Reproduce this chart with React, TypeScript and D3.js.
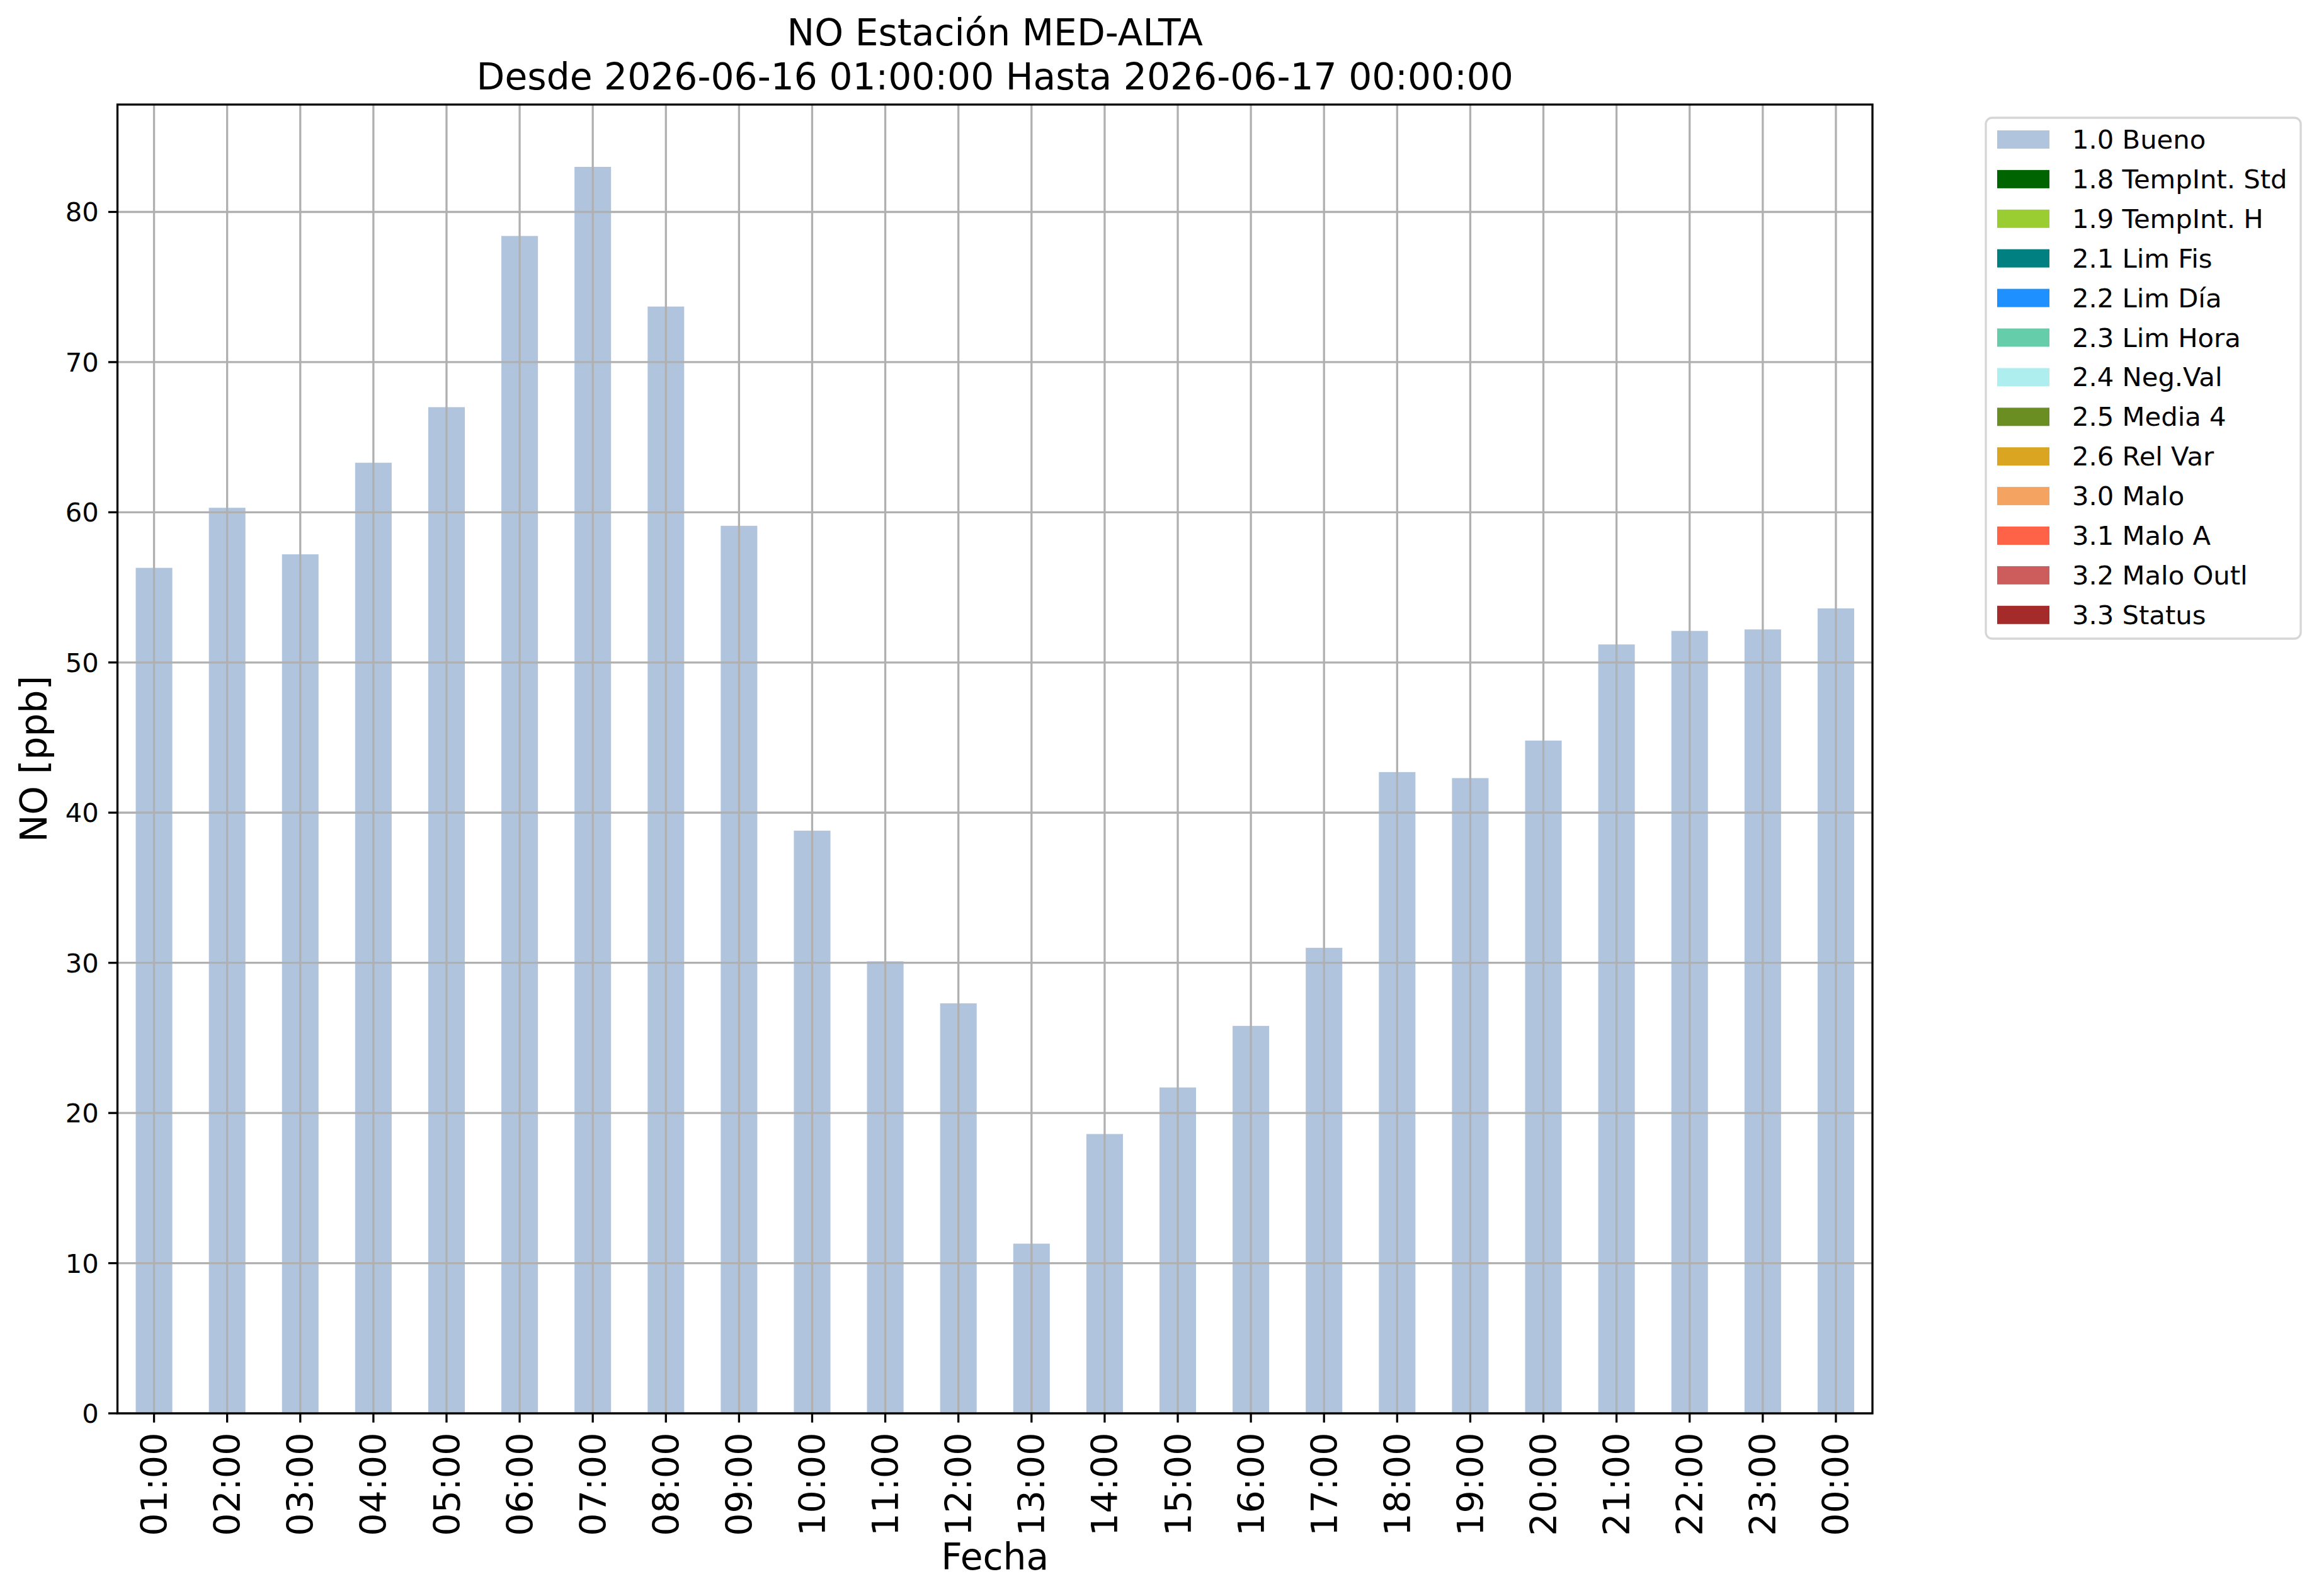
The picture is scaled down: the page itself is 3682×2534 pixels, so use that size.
import React from 'react';
import * as d3 from 'd3';

// hourly NO readings, 2026-06-16 01:00 .. 2026-06-17 00:00
const hours = [
  '01:00', '02:00', '03:00', '04:00', '05:00', '06:00', '07:00', '08:00',
  '09:00', '10:00', '11:00', '12:00', '13:00', '14:00', '15:00', '16:00',
  '17:00', '18:00', '19:00', '20:00', '21:00', '22:00', '23:00', '00:00',
];
const noValues = [
  56.3, 60.3, 57.2, 63.3, 67.0, 78.4, 83.0, 73.7,
  59.1, 38.8, 30.1, 27.3, 11.3, 18.6, 21.7, 25.8,
  31.0, 42.7, 42.3, 44.8, 51.2, 52.1, 52.2, 53.6,
];
const yTicks = [0, 10, 20, 30, 40, 50, 60, 70, 80];

const flagLabels = [
  '1.0 Bueno', '1.8 TempInt. Std', '1.9 TempInt. H', '2.1 Lim Fis', '2.2 Lim Día',
  '2.3 Lim Hora', '2.4 Neg.Val', '2.5 Media 4', '2.6 Rel Var', '3.0 Malo',
  '3.1 Malo A', '3.2 Malo Outl', '3.3 Status',
];
const flagColors = [
  '#b0c4de', '#006400', '#9acd32', '#008080', '#1e90ff',
  '#66cdaa', '#afeeee', '#6b8e23', '#daa520', '#f4a460',
  '#ff6347', '#cd5c5c', '#a52a2a',
];

const W = 3682;
const H = 2534;
const font = '"DejaVu Sans", sans-serif';

export default function App() {
  const margin = { left: 186.5, right: 2973, top: 166, bottom: 2244 };

  const x = d3.scaleBand<string>()
    .domain(hours)
    .range([margin.left, margin.right])
    .paddingInner(0.5)
    .paddingOuter(0.25);

  const y = d3.scaleLinear()
    .domain([0, (d3.max(noValues) ?? 0) * 1.05])
    .range([margin.bottom, margin.top]);

  const bw = x.bandwidth();
  const tickLen = 14.6;
  const gridColor = '#b0b0b0';
  const cx = (margin.left + margin.right) / 2;
  const labelSize = 58.3;

  // legend layout
  const lg = { x: 3153, y: 187, w: 500, h: 827, row: 62.9 };

  return (
    <>
      <style>{'body{margin:0}'}</style>
      <svg width={W} height={H} style={{ display: 'block', fontFamily: font }}>
        <rect width={W} height={H} fill="#fff" />

        {/* bars */}
        {hours.map((h, i) => (
          <rect key={h} x={x(h)} y={y(noValues[i])} width={bw}
            height={y(0) - y(noValues[i])} fill={flagColors[0]} />
        ))}

        {/* grid on top of bars */}
        {yTicks.map(t => (
          <line key={'gy' + t} x1={margin.left} x2={margin.right} y1={y(t)} y2={y(t)}
            stroke={gridColor} strokeWidth={3.3} />
        ))}
        {hours.map(h => (
          <line key={'gx' + h} x1={x(h)! + bw / 2} x2={x(h)! + bw / 2}
            y1={margin.top} y2={margin.bottom} stroke={gridColor} strokeWidth={3.3} />
        ))}

        {/* frame */}
        <rect x={margin.left} y={margin.top} width={margin.right - margin.left}
          height={margin.bottom - margin.top} fill="none" stroke="#000" strokeWidth={3.3} />

        {/* y axis */}
        {yTicks.map(t => (
          <g key={'ty' + t}>
            <line x1={margin.left - tickLen} x2={margin.left} y1={y(t)} y2={y(t)}
              stroke="#000" strokeWidth={3.3} />
            <text x={margin.left - tickLen - 15} y={y(t)} dy="0.36em" textAnchor="end"
              fontSize={41.7}>{t}</text>
          </g>
        ))}

        {/* x axis */}
        {hours.map(h => {
          const px = x(h)! + bw / 2;
          return (
            <g key={'tx' + h}>
              <line x1={px} x2={px} y1={margin.bottom} y2={margin.bottom + tickLen}
                stroke="#000" strokeWidth={3.3} />
              <text transform={`translate(${px},${margin.bottom + tickLen + 16}) rotate(-90)`}
                dy="0.36em" textAnchor="end" fontSize={57}>{h}</text>
            </g>
          );
        })}

        {/* labels */}
        <text x={cx} y={2492} textAnchor="middle" fontSize={labelSize}>Fecha</text>
        <text transform={`translate(74,${(margin.top + margin.bottom) / 2}) rotate(-90)`}
          textAnchor="middle" fontSize={labelSize}>NO [ppb]</text>
        <text x={cx} y={72} textAnchor="middle" fontSize={labelSize}>NO Estación MED-ALTA</text>
        <text x={cx} y={142} textAnchor="middle" fontSize={labelSize}>
          Desde 2026-06-16 01:00:00 Hasta 2026-06-17 00:00:00
        </text>

        {/* legend */}
        <rect x={lg.x} y={lg.y} width={lg.w} height={lg.h} rx={10} fill="#fff"
          fillOpacity={0.8} stroke="#d6d6d6" strokeWidth={3.3} />
        {flagLabels.map((lab, i) => (
          <g key={lab} transform={`translate(0,${lg.y + 20 + i * lg.row})`}>
            <rect x={3171} y={0} width={83} height={29} fill={flagColors[i]} />
            <text x={3290} y={29} fontSize={41.7}>{lab}</text>
          </g>
        ))}
      </svg>
    </>
  );
}
